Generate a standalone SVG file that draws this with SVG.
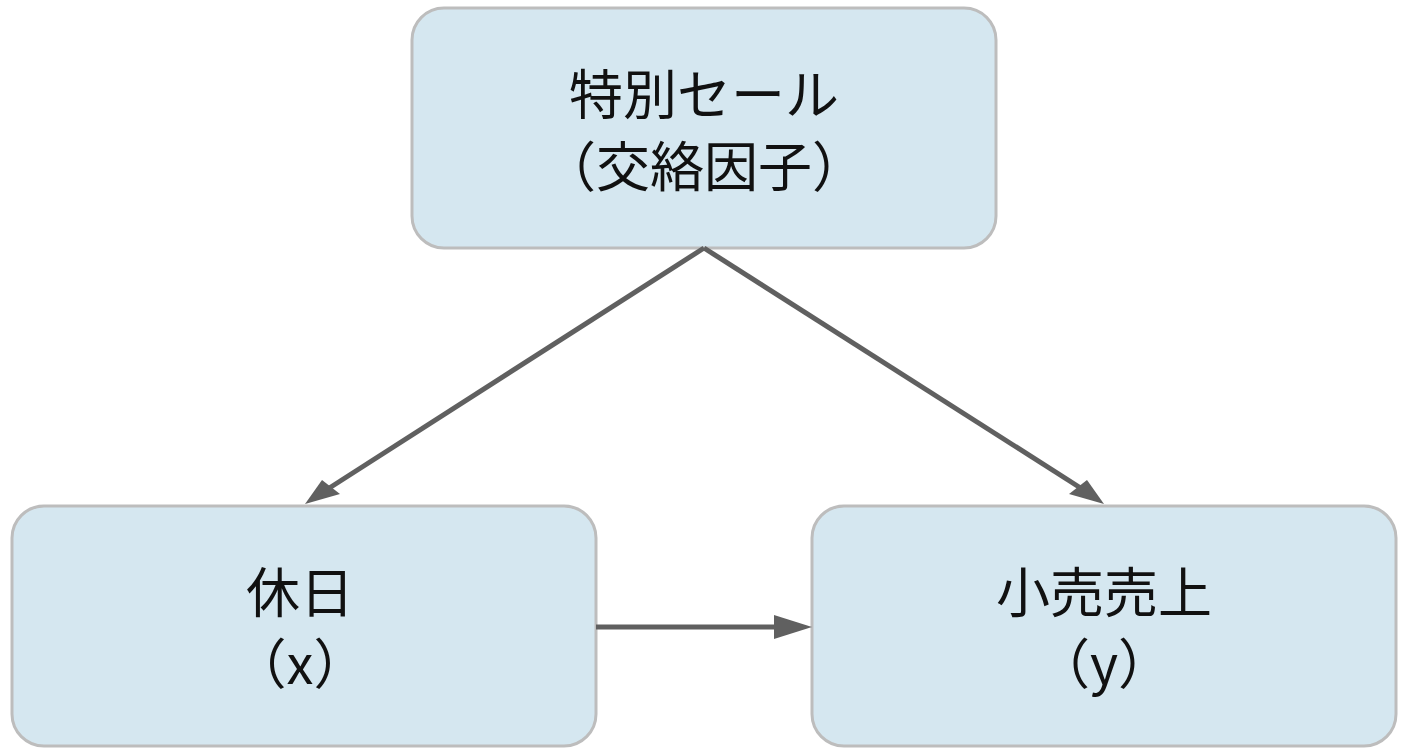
<svg xmlns="http://www.w3.org/2000/svg" width="1408" height="752" viewBox="0 0 1408 752">
<style>
.n{fill:#d5e7f0;stroke:#bdbdbd;stroke-width:3}
.t{font-family:"Noto Sans CJK JP","Noto Sans",sans-serif;font-size:54px;fill:#111;text-anchor:middle}
.c{stroke:#606060;stroke-width:5;fill:none}
</style>
<rect width="1408" height="752" fill="#fff"/>
<g id="sale"><rect class="n" x="412" y="8" width="584" height="240" rx="32"/><text class="t" x="704" y="115">特別セール</text><text class="t" x="704" y="187">（交絡因子）</text></g>
<g id="holiday"><rect class="n" x="12" y="506" width="584" height="240" rx="32"/><text class="t" x="300" y="613">休日</text><text class="t" x="300" y="684">（x）</text></g>
<g id="sales"><rect class="n" x="812" y="506" width="584" height="240" rx="32"/><text class="t" x="1104" y="613">小売売上</text><text class="t" x="1104" y="684">（y）</text></g>
<g id="connectors">
<path class="c" d="M704,248L320,494"/>
<path class="c" d="M704,248L1090,494"/>
<path class="c" d="M596,627L780,627"/>
<path d="M305,504L322,480L340,494z" fill="#606060"/>
<path d="M1104,504L1069,494L1087,480z" fill="#606060"/>
<path d="M812,627L774,615L774,639z" fill="#606060"/>
</g>
</svg>
